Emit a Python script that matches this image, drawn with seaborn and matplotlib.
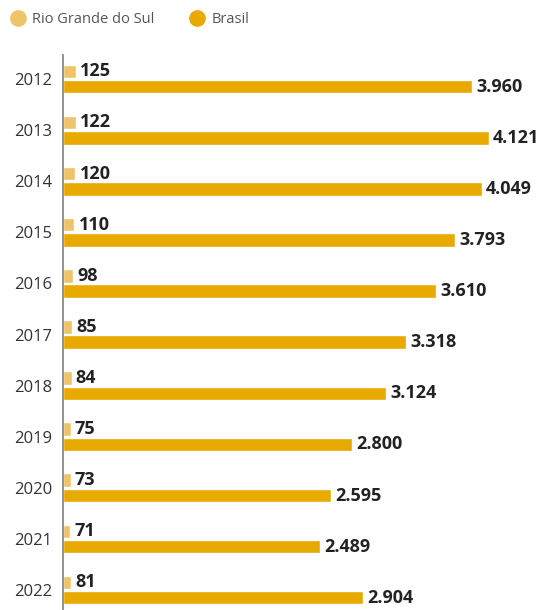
import matplotlib
matplotlib.use("Agg")
import matplotlib.pyplot as plt
from matplotlib.lines import Line2D
import seaborn as sns
import pandas as pd

years = ["2012", "2013", "2014", "2015", "2016", "2017", "2018", "2019", "2020", "2021", "2022"]
rs_values = [125, 122, 120, 110, 98, 85, 84, 75, 73, 71, 81]
br_values = [3960, 4121, 4049, 3793, 3610, 3318, 3124, 2800, 2595, 2489, 2904]
series = ["Rio Grande do Sul", "Brasil"]
colors = ["#EEC46A", "#E8AA00"]

df = pd.DataFrame({
    "ano": years * 2,
    "valor": rs_values + br_values,
    "serie": [series[0]] * len(years) + [series[1]] * len(years),
})

sns.set_theme(style="white")
plt.rcParams["font.family"] = ["Open Sans", "DejaVu Sans"]

fig = plt.figure(figsize=(5.39, 6.10), dpi=100)
ax = fig.add_axes([63 / 539, 0.0, 1 - 63 / 539, 1 - 55 / 610])

sns.barplot(data=df, x="valor", y="ano", hue="serie", orient="h",
            palette=colors, width=0.6, gap=0.12, dodge=True,
            legend=False, ax=ax, saturation=1)

fmt = lambda v: f"{v:,.0f}".replace(",", ".")
for cont in ax.containers:
    ax.bar_label(cont, labels=[fmt(b.get_width()) for b in cont], padding=3,
                 fontsize=13, fontweight="bold", color="#222222")

ax.set_xlim(0, 4604)
ax.set_ylim(10.39, -0.47)
ax.set_xlabel("")
ax.set_ylabel("")
ax.set_xticks([])
ax.tick_params(axis="y", length=0, labelsize=12, labelcolor="#333333", pad=8)
for s in ["top", "right", "bottom"]:
    ax.spines[s].set_visible(False)
ax.spines["left"].set_color("#8a8a8a")
ax.spines["left"].set_linewidth(1.3)

handles = [Line2D([], [], marker="o", linestyle="none", markersize=11,
                  markerfacecolor=c, markeredgecolor=c) for c in colors]
fig.legend(handles, series, loc="upper left", bbox_to_anchor=(0.0, 0.995),
           ncol=2, frameon=False, fontsize=10.5, handletextpad=0.4,
           columnspacing=2.3, labelcolor="#555555", borderaxespad=0.2,
           handlelength=1.2)

fig.savefig("out.png", dpi=100)
